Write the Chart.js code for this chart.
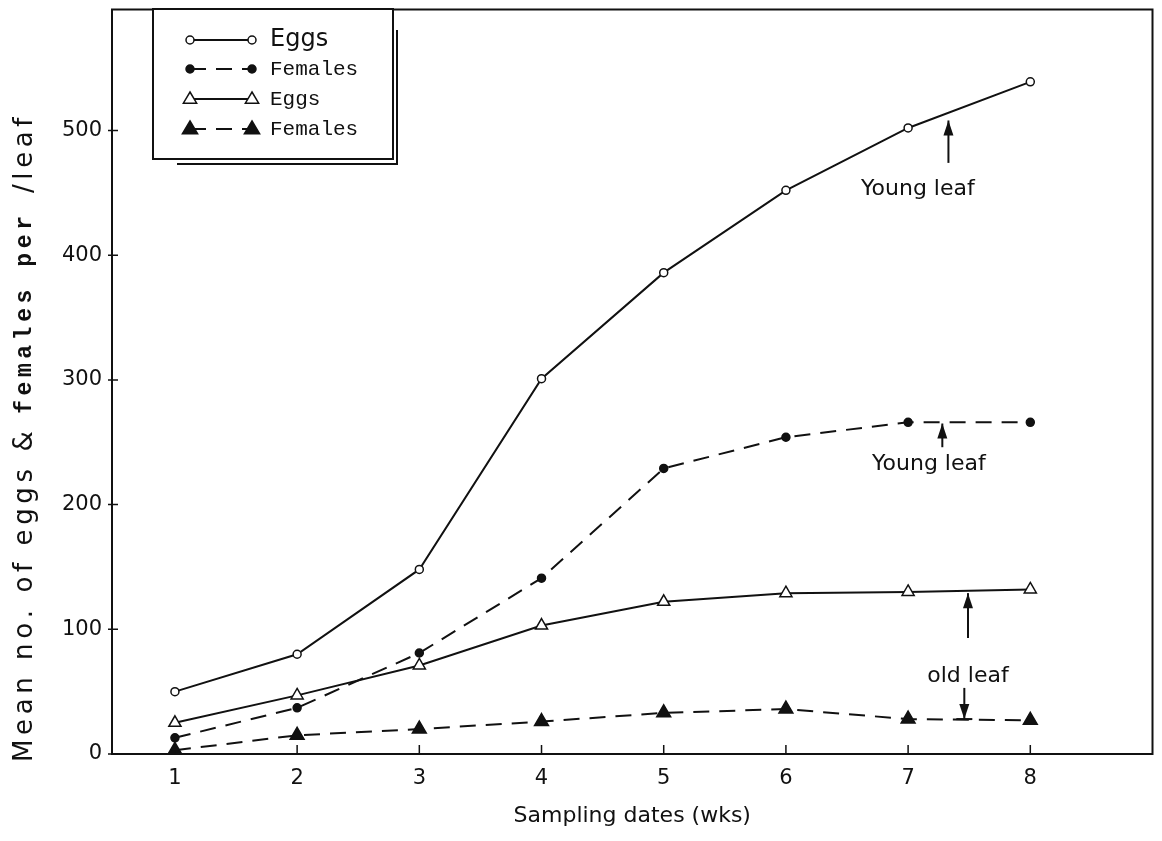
<!DOCTYPE html>
<html>
<head>
<meta charset="utf-8">
<script src="https://cdn.jsdelivr.net/npm/chart.js@4.4.0/dist/chart.umd.min.js"></script>
<style>
  html, body { margin: 0; padding: 0; background: #fff; }
</style>
</head>
<body>
<canvas id="chart" width="1162" height="841"></canvas>
<script>
// values (mean number per leaf, by sampling week)
const weeks = [1, 2, 3, 4, 5, 6, 7, 8];
const youngEggs = [50, 80, 148, 301, 386, 452, 502, 539];
const youngFemales = [13, 37, 81, 141, 229, 254, 266, 266];
const oldEggs = [25, 47, 71, 103, 122, 129, 130, 132];
const oldFemales = [3, 15, 20, 26, 33, 36, 28, 27];
const yTicks = [0, 100, 200, 300, 400, 500];
const legendLabels = ["Eggs", "Females", "Eggs", "Females"];

const SANS = "'DejaVu Sans', sans-serif";
const MONO = "'Liberation Mono', monospace";
const INK = "#111";

const pts = arr => weeks.map((w, i) => ({ x: w, y: arr[i] }));

// frame round the plot area plus inside tick marks
const framePlugin = {
  id: "frame",
  afterDatasetsDraw(chart) {
    const { ctx, chartArea: a, scales } = chart;
    ctx.save();
    ctx.strokeStyle = INK;
    ctx.lineWidth = 2;
    ctx.strokeRect(a.left, a.top, a.right - a.left, a.bottom - a.top);
    ctx.lineWidth = 1.5;
    ctx.beginPath();
    weeks.forEach(w => {
      const x = scales.x.getPixelForValue(w);
      ctx.moveTo(x, a.bottom);
      ctx.lineTo(x, a.bottom - 9);
    });
    yTicks.forEach(v => {
      const y = scales.y.getPixelForValue(v);
      ctx.moveTo(a.left - 4, y);
      ctx.lineTo(a.left + 6, y);
    });
    ctx.stroke();
    ctx.restore();
  }
};

function marker(ctx, style, filled, r, x, y) {
  ctx.beginPath();
  if (style === "circle") {
    ctx.arc(x, y, r, 0, Math.PI * 2);
  } else {
    ctx.moveTo(x, y - r);
    ctx.lineTo(x + r * 0.95, y + r * 0.6);
    ctx.lineTo(x - r * 0.95, y + r * 0.6);
    ctx.closePath();
  }
  ctx.fillStyle = filled ? INK : "#fff";
  ctx.fill();
  ctx.stroke();
}

// boxed key in the top left corner
const keyPlugin = {
  id: "keyBox",
  afterDraw(chart) {
    const { ctx } = chart;
    const left = 153, top = 9, right = 393, bottom = 159;
    ctx.save();
    ctx.strokeStyle = INK;
    ctx.lineWidth = 2;
    ctx.fillStyle = "#fff";
    ctx.fillRect(left, top, right - left, bottom - top);
    ctx.strokeRect(left, top, right - left, bottom - top);
    ctx.beginPath();
    ctx.moveTo(177, 164); ctx.lineTo(397, 164); ctx.lineTo(397, 30);
    ctx.stroke();

    const rows = [40, 69, 99, 129];
    chart.data.datasets.forEach((ds, i) => {
      const y = rows[i];
      ctx.lineWidth = ds.borderWidth;
      ctx.setLineDash(ds.borderDash || []);
      ctx.beginPath();
      ctx.moveTo(190, y); ctx.lineTo(252, y);
      ctx.stroke();
      ctx.setLineDash([]);
      ctx.lineWidth = 1.5;
      const filled = ds.pointBackgroundColor === INK;
      marker(ctx, ds.pointStyle, filled, ds.pointRadius, 190, y);
      marker(ctx, ds.pointStyle, filled, ds.pointRadius, 252, y);
      ctx.fillStyle = INK;
      ctx.textBaseline = "middle";
      ctx.textAlign = "left";
      ctx.font = i === 0 ? `24px ${SANS}` : `21px ${MONO}`;
      ctx.fillText(legendLabels[i], 270, y);
    });
    ctx.restore();
  }
};

// hand-written notes with arrows, placed in data units
const notes = [
  { text: "Young leaf", x: 7.08, y: 453, arrow: { x: 7.33, from: 474, to: 508, dir: "up" } },
  { text: "Young leaf", x: 7.17, y: 232, arrow: { x: 7.28, from: 246, to: 265, dir: "up" } },
  { text: "old leaf", x: 7.49, y: 62, arrow: { x: 7.49, from: 93, to: 129, dir: "up" } },
  { text: "", x: 0, y: 0, arrow: { x: 7.46, from: 53, to: 28, dir: "down" } }
];

const notesPlugin = {
  id: "notes",
  afterDatasetsDraw(chart) {
    const { ctx, scales } = chart;
    ctx.save();
    ctx.strokeStyle = INK;
    ctx.fillStyle = INK;
    ctx.lineWidth = 2;
    notes.forEach(n => {
      if (n.text) {
        ctx.font = `22px ${SANS}`;
        ctx.textAlign = "center";
        ctx.textBaseline = "middle";
        ctx.fillText(n.text, scales.x.getPixelForValue(n.x), scales.y.getPixelForValue(n.y));
      }
      const a = n.arrow;
      const x = scales.x.getPixelForValue(a.x);
      const y0 = scales.y.getPixelForValue(a.from);
      const y1 = scales.y.getPixelForValue(a.to);
      const s = a.dir === "up" ? 1 : -1;
      ctx.beginPath();
      ctx.moveTo(x, y0); ctx.lineTo(x, y1);
      ctx.stroke();
      ctx.beginPath();
      ctx.moveTo(x, y1);
      ctx.lineTo(x - 5, y1 + s * 15);
      ctx.lineTo(x + 5, y1 + s * 15);
      ctx.closePath();
      ctx.fill();
      if (a.dir === "down") {
        ctx.beginPath();
        ctx.moveTo(x - 8, y1); ctx.lineTo(x + 8, y1);
        ctx.stroke();
      }
    });
    ctx.restore();
  }
};

// y title mixes a lettering font and a typewriter font, spread over the axis height
const yTitlePlugin = {
  id: "yTitle",
  afterDraw(chart) {
    const { ctx } = chart;
    const parts = [
      { t: "Mean no. of eggs & ", f: `26px ${SANS}` },
      { t: "females per ", f: `bold 23px ${MONO}` },
      { t: "/leaf", f: `26px ${SANS}` }
    ];
    const start = 762, end = 118;
    ctx.save();
    let natural = 0, count = 0;
    parts.forEach(p => {
      ctx.font = p.f;
      natural += ctx.measureText(p.t).width;
      count += p.t.length;
    });
    const gap = Math.max(0, (start - end - natural) / (count - 1));
    ctx.translate(25, start);
    ctx.rotate(-Math.PI / 2);
    ctx.fillStyle = INK;
    ctx.textBaseline = "middle";
    ctx.textAlign = "left";
    let x = 0;
    parts.forEach(p => {
      ctx.font = p.f;
      for (const ch of p.t) {
        ctx.fillText(ch, x, 0);
        x += ctx.measureText(ch).width + gap;
      }
    });
    ctx.restore();
  }
};

new Chart(document.getElementById("chart").getContext("2d"), {
  type: "line",
  data: {
    datasets: [
      {
        label: "Eggs (young leaf)",
        data: pts(youngEggs),
        borderColor: INK, borderWidth: 2,
        pointStyle: "circle", pointRadius: 4,
        pointBackgroundColor: "#fff", pointBorderColor: INK, pointBorderWidth: 1.5
      },
      {
        label: "Females (young leaf)",
        data: pts(youngFemales),
        borderColor: INK, borderWidth: 2, borderDash: [16, 10],
        pointStyle: "circle", pointRadius: 4,
        pointBackgroundColor: INK, pointBorderColor: INK, pointBorderWidth: 1.5
      },
      {
        label: "Eggs (old leaf)",
        data: pts(oldEggs),
        borderColor: INK, borderWidth: 2,
        pointStyle: "triangle", pointRadius: 7,
        pointBackgroundColor: "#fff", pointBorderColor: INK, pointBorderWidth: 1.5
      },
      {
        label: "Females (old leaf)",
        data: pts(oldFemales),
        borderColor: INK, borderWidth: 2, borderDash: [16, 10],
        pointStyle: "triangle", pointRadius: 8,
        pointBackgroundColor: INK, pointBorderColor: INK, pointBorderWidth: 1.5
      }
    ]
  },
  options: {
    responsive: false,
    animation: false,
    devicePixelRatio: 1,
    layout: { padding: { top: 9, right: 7, left: 0, bottom: 0 } },
    plugins: { legend: { display: false }, tooltip: { enabled: false } },
    elements: { line: { tension: 0 } },
    scales: {
      x: {
        type: "linear",
        min: 0.485, max: 9,
        afterBuildTicks: s => { s.ticks = weeks.map(v => ({ value: v })); },
        afterFit: s => { s.height = 87; s.paddingLeft = 0; s.paddingRight = 0; },
        grid: { display: false, drawTicks: false },
        border: { display: false },
        ticks: { color: INK, font: { family: SANS, size: 21 }, padding: 12, maxRotation: 0 },
        title: {
          display: true, text: "Sampling dates (wks)", color: INK,
          font: { family: SANS, size: 22 }, padding: { top: 0, bottom: 12 }
        }
      },
      y: {
        min: 0, max: 597,
        afterBuildTicks: s => { s.ticks = yTicks.map(v => ({ value: v })); },
        afterFit: s => { s.width = 112; s.paddingTop = 0; s.paddingBottom = 0; },
        grid: { display: false, drawTicks: false },
        border: { display: false },
        ticks: { color: INK, font: { family: SANS, size: 21 }, padding: 10 }
      }
    }
  },
  plugins: [framePlugin, notesPlugin, keyPlugin, yTitlePlugin]
});
</script>
</body>
</html>
